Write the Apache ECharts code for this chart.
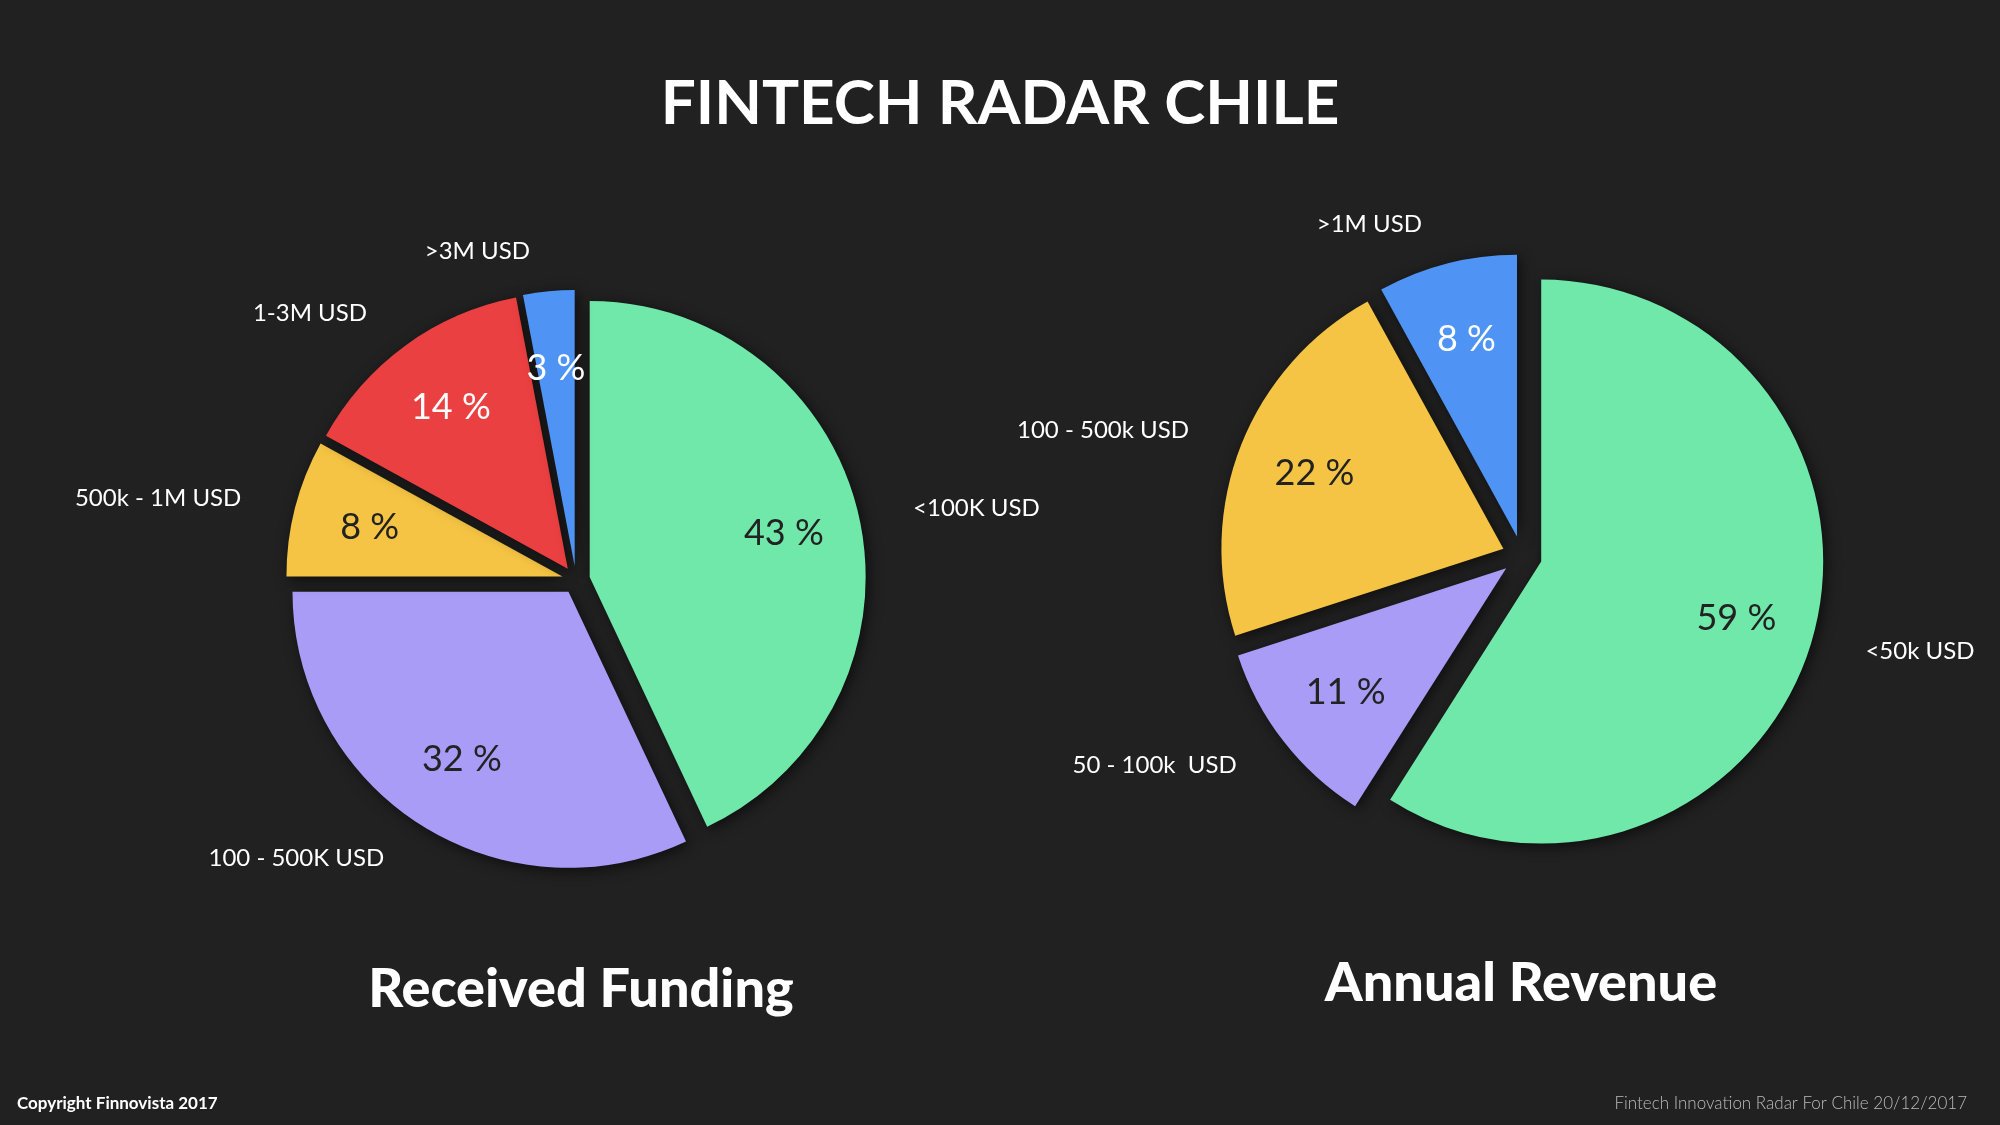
<!DOCTYPE html>
<html><head><meta charset="utf-8">
<script src="https://cdn.jsdelivr.net/npm/echarts@6/dist/echarts.min.js"></script>
<style>html,body{margin:0;background:#212121}#c{width:2000px;height:1125px}</style>
</head><body><div id="c"></div>
<script>
const fundingCats = ['<100K USD','100 - 500K USD','500k - 1M USD','1-3M USD','>3M USD'];
const fundingVals = [43,32,8,14,3];
const revenueCats = ['<50k USD','50 - 100k  USD','100 - 500k USD','>1M USD'];
const revenueVals = [59,11,22,8];
const fundingColors = ['#70E8AA','#A89CF7','#F5C444','#EB4041','#4F94F5'];
const revenueColors = ['#70E8AA','#A89CF7','#F5C444','#4F94F5'];
const insideText = {'#EB4041':'#fff','#4F94F5':'#fff'};
function mk(cats,vals,cols,center,r,off){
  const base = {type:'pie',center:center,startAngle:90,selectedMode:'multiple',selectedOffset:off,animation:false,silent:true};
  return [
    Object.assign({},base,{radius:[0,r],
      data:cats.map((c,i)=>({name:c,value:vals[i],selected:true,itemStyle:{color:cols[i]}})),
      itemStyle:{shadowBlur:14,shadowColor:'rgba(0,0,0,0.6)',shadowOffsetX:3,shadowOffsetY:3},
      label:{show:false},labelLine:{show:false}}),
    Object.assign({},base,{radius:[r*0.42,r],
      data:cats.map((c,i)=>({name:c,value:vals[i],selected:true,label:{color:insideText[cols[i]]||'#222'}})),
      itemStyle:{color:'rgba(0,0,0,0)'},
      label:{position:'inside',formatter:'{c} %',fontSize:36,fontFamily:'Lato',fontWeight:'normal'},labelLine:{show:false}}),
    Object.assign({},base,{radius:[0,r],data:cats.map((c,i)=>({name:c,value:vals[i],selected:true})),
      itemStyle:{color:'rgba(0,0,0,0)'},
      label:{position:'outside',formatter:'{b}',color:'#fff',fontSize:24,fontFamily:'Lato'},
      labelLine:{show:false,length:40,length2:10}})
  ];
}
const chart = echarts.init(document.getElementById('c'));
chart.setOption({
  backgroundColor:'#212121',
  title:[
    {text:'FINTECH RADAR CHILE',left:'center',top:68,textStyle:{color:'#fff',fontSize:62,fontWeight:'bold',fontFamily:'Lato'}},
    {text:'Received Funding',left:576,textAlign:'center',top:958,textStyle:{color:'#fff',fontSize:54,fontWeight:900,fontFamily:'Lato'}},
    {text:'Annual Revenue',left:1516,textAlign:'center',top:952,textStyle:{color:'#fff',fontSize:54,fontWeight:900,fontFamily:'Lato'}},
    {text:'Copyright Finnovista 2017',left:12,top:1090,textStyle:{color:'#fff',fontSize:17,fontWeight:'bold',fontFamily:'Lato'}},
    {text:'Fintech Innovation Radar For Chile 20/12/2017',right:28,top:1090,textStyle:{color:'#bbb',fontSize:17,fontWeight:300,fontFamily:'Lato'}}
  ],
  series:[...mk(fundingCats,fundingVals,fundingColors,[576,580],276,14),
          ...mk(revenueCats,revenueVals,revenueColors,[1522,556],282,20)]
});
</script></body></html>
